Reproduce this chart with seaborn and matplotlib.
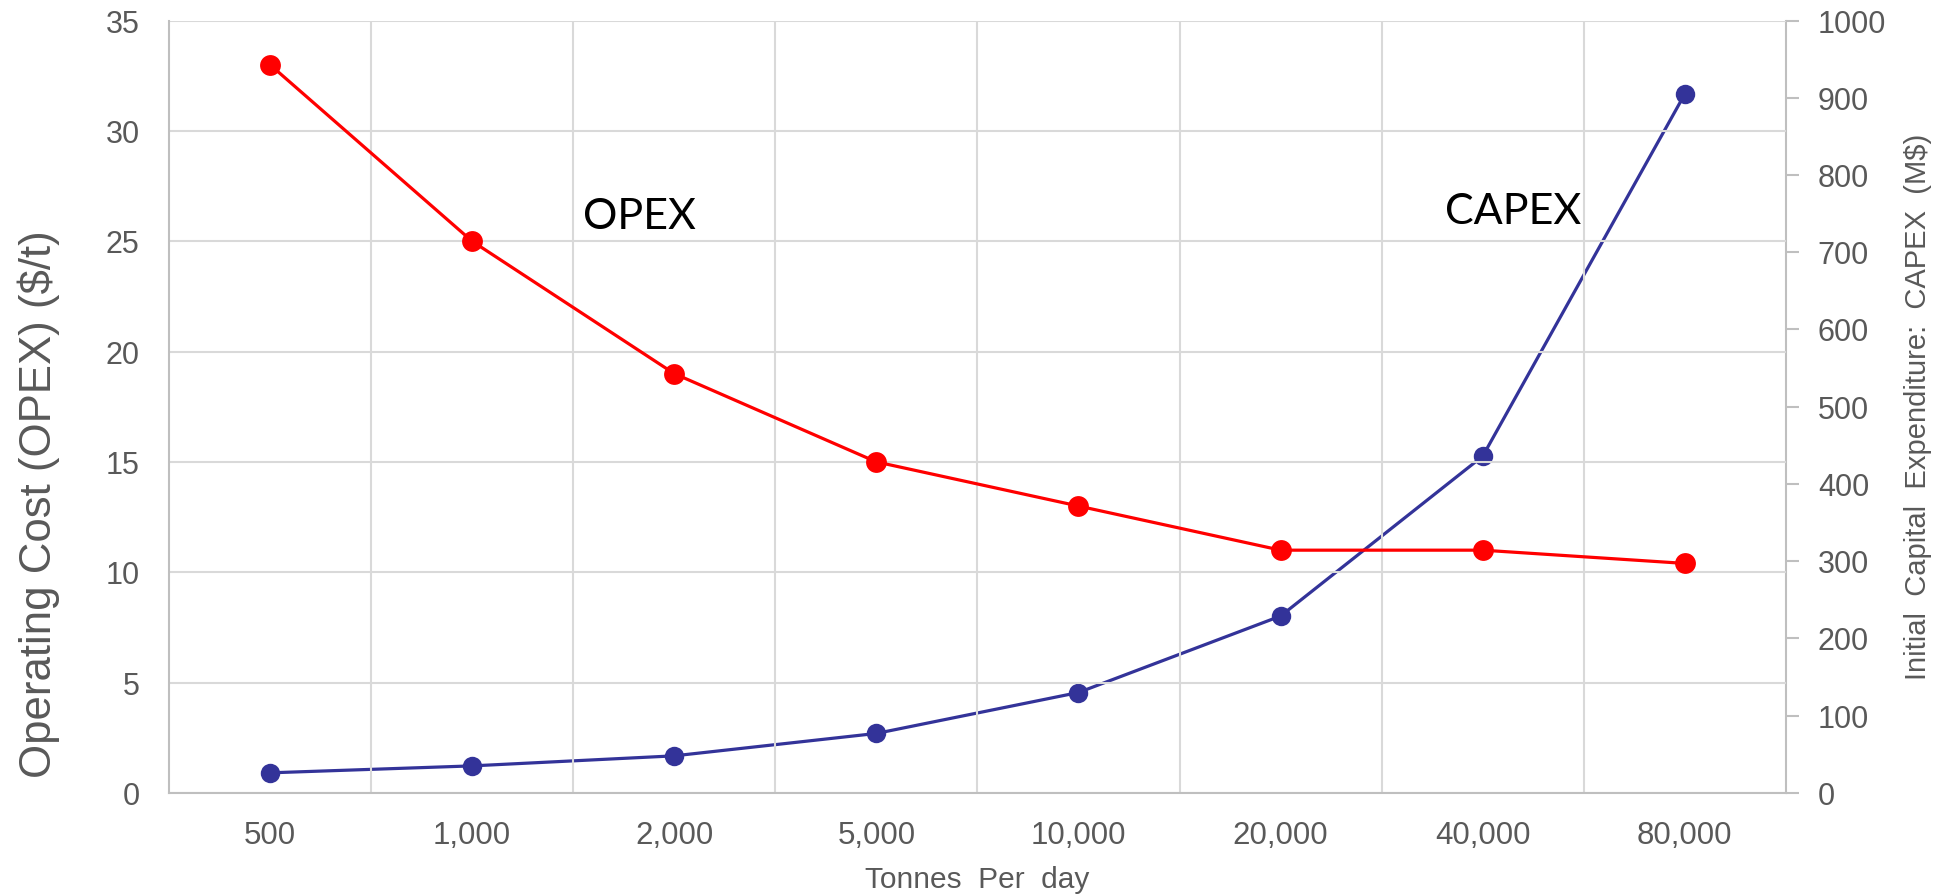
import numpy as np
import pandas as pd
import matplotlib
matplotlib.use("Agg")
import matplotlib.pyplot as plt
import seaborn as sns

# Plant throughput categories (tonnes per day)
throughput = ["500", "1,000", "2,000", "5,000", "10,000", "20,000", "40,000", "80,000"]
# Operating cost, $/t
opex = [33, 25, 19, 15, 13, 11, 11, 10.4]
# Initial capital expenditure, M$
capex = [26, 35, 48, 77, 130, 229, 436, 905]

left_ticks = [0, 5, 10, 15, 20, 25, 30, 35]
right_ticks = [0, 100, 200, 300, 400, 500, 600, 700, 800, 900, 1000]

sns.set_theme(style="white")
plt.rcParams["font.family"] = ["Liberation Sans", "DejaVu Sans"]

df = pd.DataFrame({"pos": np.arange(len(throughput)), "opex": opex, "capex": capex})

fig = plt.figure(figsize=(19.37, 8.955), dpi=100)
ax = fig.add_axes([0.0872, 0.114, 0.9220 - 0.0872, 0.9765 - 0.114])
ax2 = ax.twinx()

grid_c = "#D9D9D9"
spine_c = "#BFBFBF"
text_c = "#595959"

sns.lineplot(data=df, x="pos", y="opex", ax=ax, color="#FF0000", lw=2.3,
             marker="o", markersize=15, markeredgewidth=0, zorder=3)
sns.lineplot(data=df, x="pos", y="capex", ax=ax2, color="#333399", lw=2.3,
             marker="o", markersize=14, markeredgewidth=0, zorder=3)

ax.set_xlim(-0.5, len(throughput) - 0.5)
ax.set_ylim(0, 35)
ax2.set_ylim(0, 1000)

# horizontal grid from the primary axis, vertical grid between categories
ax.set_yticks(left_ticks)
ax.set_yticklabels([str(v) for v in left_ticks], fontsize=22, color=text_c)
for v in left_ticks:
    ax.axhline(v, color=grid_c, lw=1.5, zorder=0)
for b in np.arange(0.5, len(throughput) - 0.5, 1.0):
    ax.axvline(b, color=grid_c, lw=1.5, zorder=0)

ax.set_xticks(np.arange(len(throughput)))
ax.set_xticklabels(throughput, fontsize=22.5, color=text_c)
ax.tick_params(axis="x", length=0, pad=20)
ax.tick_params(axis="y", length=0, pad=21)

ax2.set_yticks(right_ticks)
ax2.set_yticklabels([str(v) for v in right_ticks], fontsize=22, color=text_c)
ax2.tick_params(axis="y", length=9, width=1.5, color=spine_c, pad=14, direction="out")
ax2.grid(False)
ax.grid(False)

for a in (ax, ax2):
    for s in a.spines.values():
        s.set_visible(False)
ax.spines["left"].set_visible(True)
ax.spines["left"].set_color(spine_c)
ax.spines["left"].set_linewidth(1.5)
ax.spines["bottom"].set_visible(True)
ax.spines["bottom"].set_color(spine_c)
ax.spines["bottom"].set_linewidth(1.5)
ax2.spines["right"].set_visible(True)
ax2.spines["right"].set_color(spine_c)
ax2.spines["right"].set_linewidth(1.5)

ax.set_xlabel("Tonnes  Per  day", fontsize=21.5, color=text_c, labelpad=11)
ax.set_ylabel("Operating Cost (OPEX) ($/t)", fontsize=31.5, color=text_c, labelpad=33)
ax.yaxis.label.set_y(0.374)
ax2.set_ylabel("Initial  Capital  Expenditure:  CAPEX  (M$)", fontsize=21,
               color=text_c, labelpad=13)

ax.text(1.83, 26.1, "OPEX", fontsize=31, color="black", ha="center", va="center",
        family=["Lato", "DejaVu Sans"], zorder=4)
ax.text(6.15, 26.35, "CAPEX", fontsize=31, color="black", ha="center", va="center",
        family=["Lato", "DejaVu Sans"], zorder=4)

ax.set_zorder(ax2.get_zorder() + 1)
ax.patch.set_visible(False)

fig.savefig("out.png", dpi=100, facecolor="white")
